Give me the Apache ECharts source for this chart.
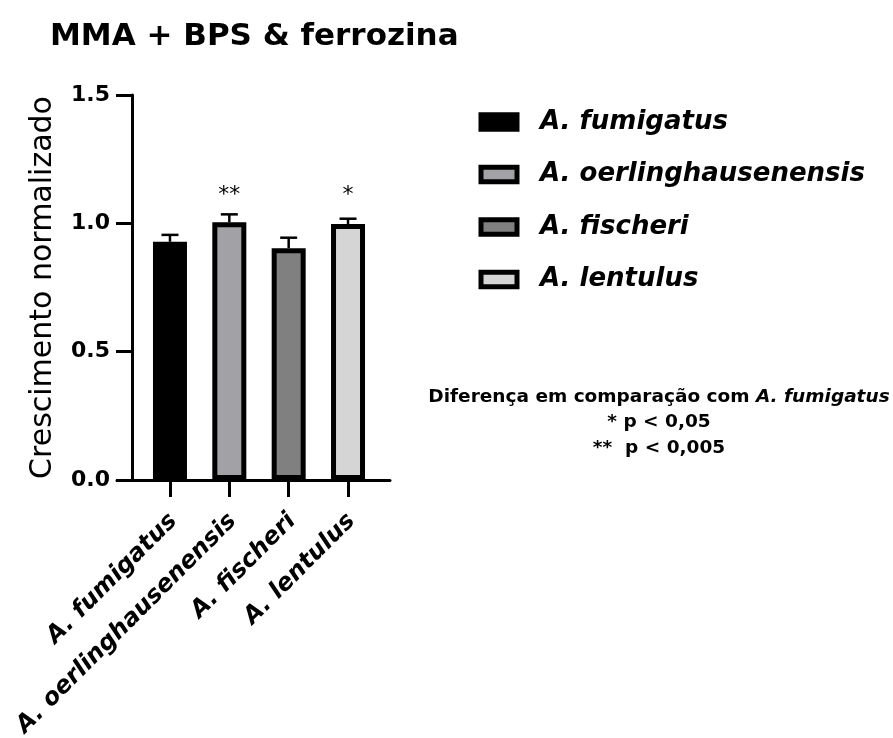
<!DOCTYPE html>
<html>
<head>
<meta charset="utf-8">
<script src="https://cdn.jsdelivr.net/npm/echarts@6/dist/echarts.min.js"></script>
<style>
  html, body { margin: 0; padding: 0; background: #ffffff; }
  #chart { width: 893px; height: 738px; }
</style>
</head>
<body>
<div id="chart"></div>
<script>
// Normalised growth on MMA + BPS & ferrozine, per Aspergillus species
const categories = ['A. fumigatus', 'A. oerlinghausenensis', 'A. fischeri', 'A. lentulus'];
const means = [0.928, 1.004, 0.903, 0.997];
const sems = [0.027, 0.031, 0.041, 0.021];
const significance = ['', '**', '', '*'];
const starLevel = 1.11;
const barColors = ['#000000', '#a2a2a6', '#808080', '#d5d5d5'];
const yMin = 0, yMax = 1.5, yStep = 0.5;

const FONT = '"DejaVu Sans", sans-serif';
const chart = echarts.init(document.getElementById('chart'));

const barSeries = categories.map((name, i) => ({
  type: 'bar',
  name: name,
  xAxisIndex: 0,
  yAxisIndex: 0,
  barWidth: 34,
  barGap: '-100%',
  silent: true,
  z: 2,
  itemStyle: { color: barColors[i], borderColor: '#000', borderWidth: 5 },
  data: categories.map((_, j) => (j === i ? means[i] : '-'))
}));

// SEM whiskers (upper half only) plus significance stars
const errorSeries = {
  type: 'custom',
  xAxisIndex: 0,
  yAxisIndex: 0,
  silent: true,
  z: 3,
  data: categories.map((_, i) => [i, means[i], sems[i]]),
  renderItem: function (params, api) {
    const idx = api.value(0);
    const m = api.value(1);
    const s = api.value(2);
    const base = api.coord([idx, m]);
    const top = api.coord([idx, m + s]);
    const half = 8.5;
    const stroke = { stroke: '#000', lineWidth: 2.5 };
    const children = [
      { type: 'line', shape: { x1: base[0], y1: base[1], x2: top[0], y2: top[1] }, style: stroke },
      { type: 'line', shape: { x1: top[0] - half, y1: top[1], x2: top[0] + half, y2: top[1] }, style: stroke }
    ];
    const sig = significance[params.dataIndex];
    if (sig) {
      const p = api.coord([idx, starLevel]);
      children.push({
        type: 'text',
        x: p[0],
        y: p[1],
        style: { text: sig, fill: '#000', font: '22px "DejaVu Sans"', align: 'center', verticalAlign: 'middle' }
      });
    }
    return { type: 'group', children: children };
  }
};

const option = {
  backgroundColor: '#ffffff',
  animation: false,
  title: [
    {
      text: 'MMA + BPS & ferrozina',
      left: 50,
      top: 21,
      padding: 0,
      textStyle: { fontFamily: FONT, fontWeight: 'bold', fontSize: 31, color: '#000' }
    },
    {
      text: '{b|Diferença em comparação com }{bi|A. fumigatus}\n{b|* p < 0,05}\n{b|**  p < 0,005}',
      left: 659,
      top: 384,
      textAlign: 'center',
      padding: 0,
      textStyle: {
        lineHeight: 25.5,
        rich: {
          b: { fontFamily: FONT, fontWeight: 'bold', fontSize: 18.5, color: '#000', lineHeight: 25.5 },
          bi: { fontFamily: FONT, fontWeight: 'bold', fontStyle: 'italic', fontSize: 18.5, color: '#000', lineHeight: 25.5 }
        }
      }
    }
  ],
  legend: {
    orient: 'vertical',
    left: 478.5,
    top: 107,
    padding: 0,
    icon: 'rect',
    itemWidth: 36,
    itemHeight: 14.5,
    itemGap: 22.5,
    itemStyle: { borderWidth: 5, borderColor: '#000' },
    textStyle: {
      fontFamily: FONT, fontWeight: 'bold', fontStyle: 'italic', fontSize: 26,
      color: '#000', lineHeight: 30, padding: [0, 0, 0, 18]
    },
    data: categories
  },
  grid: [
    { left: 140.3, top: 95, width: 237.4, height: 385, outerBoundsMode: 'none', containLabel: false },
    { left: 117, top: 95, width: 273, height: 385, outerBoundsMode: 'none', containLabel: false },
    { left: 135.3, top: 95, width: 237.4, height: 385, outerBoundsMode: 'none', containLabel: false }
  ],
  xAxis: [
    {
      gridIndex: 0,
      type: 'category',
      data: categories,
      axisLine: { show: false },
      axisTick: { show: true, interval: 0, alignWithLabel: true, length: 17, lineStyle: { color: '#000', width: 3 } },
      axisLabel: { show: false, interval: 0 },
      splitLine: { show: false }
    },
    {
      gridIndex: 1,
      type: 'value',
      min: 0,
      max: 1,
      axisLine: { show: true, onZero: false, lineStyle: { color: '#000', width: 3 } },
      axisTick: { show: false },
      axisLabel: { show: false },
      splitLine: { show: false }
    },
    {
      gridIndex: 2,
      type: 'category',
      data: categories,
      axisLine: { show: false },
      axisTick: { show: false },
      splitLine: { show: false },
      axisLabel: {
        interval: 0,
        rotate: 45,
        align: 'right',
        verticalAlign: 'top',
        margin: 29,
        fontFamily: FONT, fontWeight: 'bold', fontStyle: 'italic', fontSize: 24, color: '#000'
      }
    }
  ],
  yAxis: [
    {
      gridIndex: 0,
      type: 'value',
      min: yMin,
      max: yMax,
      interval: yStep,
      offset: 8.3,
      name: 'Crescimento normalizado',
      nameLocation: 'middle',
      nameGap: 74,
      nameTextStyle: { fontFamily: FONT, fontSize: 30, color: '#000' },
      axisLine: { show: true, lineStyle: { color: '#000', width: 3 } },
      axisTick: { show: true, length: 16, lineStyle: { color: '#000', width: 3 } },
      axisLabel: {
        formatter: v => v.toFixed(1),
        fontFamily: FONT, fontWeight: 'bold', fontSize: 22, color: '#000', margin: 22
      },
      splitLine: { show: false }
    },
    { gridIndex: 1, type: 'value', min: 0, max: 1, show: false },
    { gridIndex: 2, type: 'value', min: 0, max: 1, show: false }
  ],
  series: barSeries.concat([errorSeries])
};

chart.setOption(option);
</script>
</body>
</html>
